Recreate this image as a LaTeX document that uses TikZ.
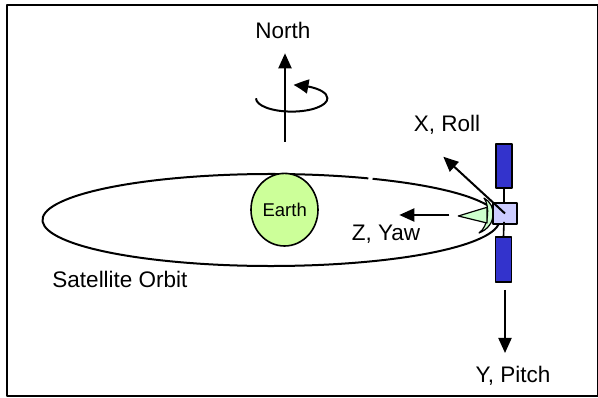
\documentclass[tikz,border=0pt]{standalone}
\usepackage{fontspec}
\setmainfont{Liberation Sans}
\usetikzlibrary{arrows.meta,bending}
\definecolor{earthgreen}{HTML}{CCFF99}
\definecolor{dishgreen}{HTML}{CCFFCC}
\definecolor{bodyblue}{HTML}{CCCCFF}
\definecolor{panelblue}{HTML}{3333CC}
\begin{document}
\begin{tikzpicture}[x=1pt,y=-1pt,
  line join=round,
  lbl/.style={anchor=base,inner sep=0pt,font=\fontsize{22.5}{25}\selectfont},
  thin line/.style={line width=2pt},
  axis/.style={thin line,-{Triangle[length=15pt,width=13pt]}},
  panel/.style={draw,line width=1.6pt,fill=panelblue},
]
\useasboundingbox (0,0) rectangle (598,398);
% frame
\draw[line width=2pt] (6.5,5) rectangle (597.5,396.5);

% orbit (with the small break near the top)
\draw[thin line] (271,220) ++(-63.6:228.5 and 46) arc[start angle=-63.6,end angle=295.2,x radius=228.5,y radius=46];

% Earth
\draw[line width=1.6pt,fill=earthgreen] (284.5,209.7) ellipse[x radius=33.5,y radius=36.3];
\node[lbl,font=\fontsize{18.5}{20}\selectfont] (earth) at (284.7,216.7) {Earth};

% North axis and spin
\node[lbl] (north) at (283,38.3) {North};
\coordinate (spinc) at (291.7,98.3);
\draw[thin line,-{Triangle[length=15pt,width=14pt,bend]}] (spinc) ++(180:35.7 and 13.3)
  arc[start angle=180,end angle=-87,x radius=35.7,y radius=13.3];
\coordinate (nbase) at (285,141.7);
\coordinate (ntip) at (285,53.3);
\draw[axis] (nbase) -- (ntip);

% satellite: dish, feed, body, panels
\draw[line width=1.2pt,fill=dishgreen] (484,198) .. controls (497,205) and (497,226) .. (479,233)
  .. controls (489,226) and (490,206) .. (484,198) -- cycle;
\draw[line width=1.2pt,fill=dishgreen] (458.3,216) -- (487,207.3) -- (487,223) -- cycle;
\node[draw,line width=1.6pt,fill=bodyblue,minimum width=24pt,minimum height=21pt,inner sep=0pt] (body) at (505,213.5) {};
\node[panel,minimum width=16pt,minimum height=44pt,inner sep=0pt] (panelup) at (504,166) {};
\node[panel,minimum width=16pt,minimum height=45pt,inner sep=0pt] (paneldown) at (503.5,259.5) {};
\draw[line width=1.6pt] (panelup.south) -- (body.north -| panelup.south);
\draw[line width=1.6pt] (body.center |- body.south) ++(-1,-3) -- (paneldown.north);

% body axes
\coordinate (rolltip) at (443.3,156.7);
\draw[axis] (body.center) -- (rolltip);
\node[lbl] (roll) at (447,131.7) {X, Roll};

\coordinate (yawtail) at (449.3,215);
\coordinate (yawtip) at (399.3,215);
\draw[axis] (yawtail) -- (yawtip);
\node[lbl] (yaw) at (386,240.7) {Z, Yaw};

\coordinate (pitchtail) at (505,290);
\coordinate (pitchtip) at (505,353);
\draw[axis] (pitchtail) -- (pitchtip);
\node[lbl] (pitch) at (513,382.3) {Y, Pitch};

% orbit label
\node[lbl] (orbit) at (120,287.3) {Satellite Orbit};
\end{tikzpicture}
\end{document}
